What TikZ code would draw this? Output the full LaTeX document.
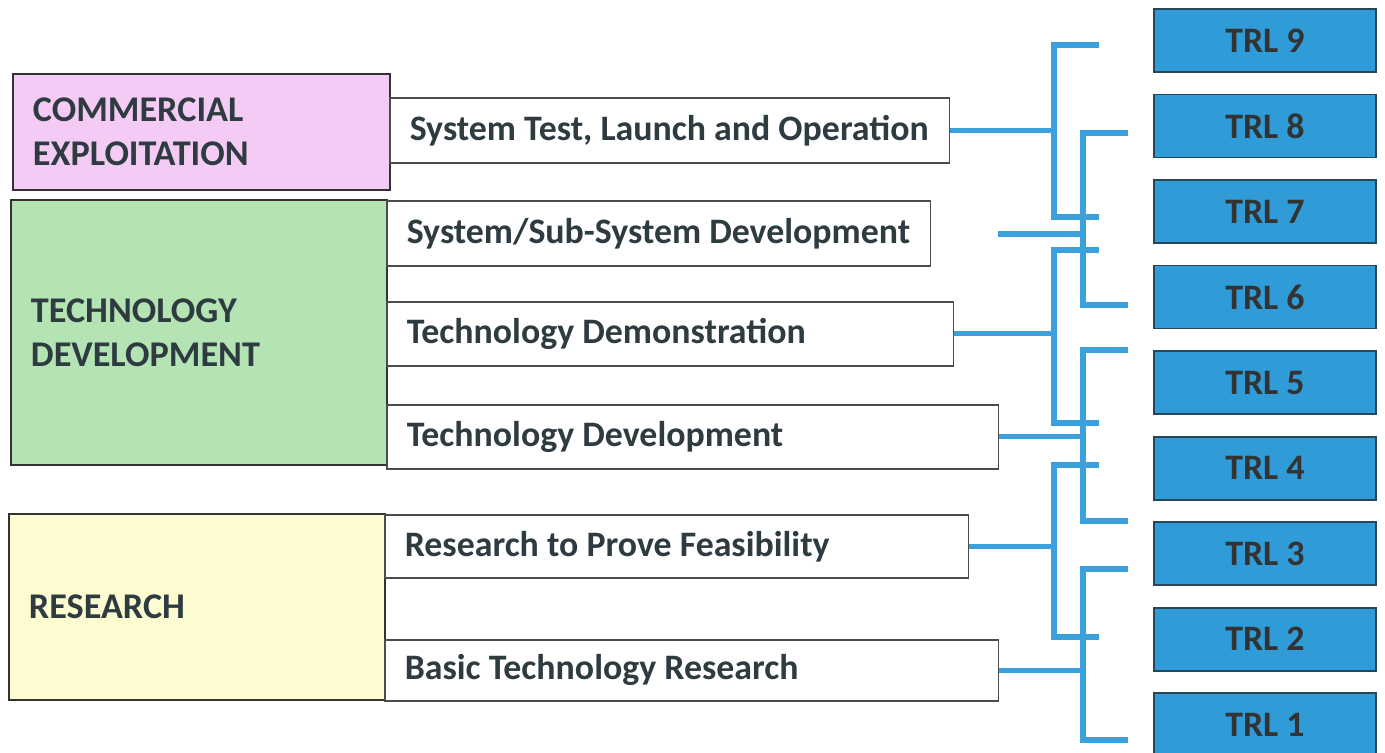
\documentclass[tikz,border=0pt]{standalone}
\usepackage{fontspec}
\setmainfont{Carlito}
\usetikzlibrary{positioning}

\definecolor{inkgrey}{HTML}{2E3B40}
\definecolor{compink}{HTML}{F4CBF4}
\definecolor{tecgreen}{HTML}{B4E3B4}
\definecolor{resyellow}{HTML}{FCFCD0}
\definecolor{trlblue}{HTML}{2F9BD7}
\definecolor{trlline}{HTML}{27465A}
\definecolor{linkblue}{HTML}{3BA1DD}

\begin{document}
\begin{tikzpicture}
    [x=0.02cm, y=-0.02cm,
    every node/.style={font=\fontsize{20.4}{25}\selectfont\bfseries, text=inkgrey},
    catbox/.style={rectangle, draw=black!80, line width=1.1pt, anchor=north west, align=flush left, inner xsep=0.4cm, font=\fontsize{20.6}{25}\selectfont\bfseries},
    actbox/.style={rectangle, draw=black!70, line width=0.9pt, fill=white, anchor=north west, inner xsep=0.4cm},
    trlbox/.style={rectangle, draw=trlline, line width=1.1pt, fill=trlblue, minimum width=4.44cm, minimum height=1.26cm, text=black!80},
    link/.style={draw=linkblue, line width=2.9pt},]

    \clip (0,0) rectangle (1385,753);

    %Phases
    \node[catbox, fill=compink, text width=6.74cm, minimum height=2.32cm](com) at (12,73){COMMERCIAL\\EXPLOITATION};
    \node[catbox, fill=tecgreen, text width=6.72cm, minimum height=5.3cm](tec) at (10,199){TECHNOLOGY\\DEVELOPMENT};
    \node[catbox, fill=resyellow, text width=6.72cm, minimum height=3.72cm](res) at (8,513){RESEARCH};

    %Activities
    \node[actbox, minimum height=1.3cm](act1) at (389,97){\makebox[10.4cm][l]{System Test, Launch and Operation}};
    \node[actbox, minimum height=1.3cm](act2) at (386,200){\makebox[10.08cm][l]{System/Sub-System Development}};
    \node[actbox, minimum height=1.28cm](act3) at (386,301){\makebox[10.54cm][l]{Technology Demonstration}};
    \node[actbox, minimum height=1.28cm](act4) at (386,404){\makebox[11.44cm][l]{Technology Development}};
    \node[actbox, minimum height=1.26cm](act5) at (384,514){\makebox[10.88cm][l]{Research to Prove Feasibility}};
    \node[actbox, minimum height=1.22cm](act6) at (384,639){\makebox[11.48cm][l]{Basic Technology Research}};

    %TRL levels
    \node[trlbox, anchor=north west](trl9) at (1153,8){TRL 9};
    \foreach \n/\p in {8/9,7/8,6/7,5/6,4/5,3/4,2/3,1/2}
        \node[trlbox, below=0.412cm of trl\p](trl\n){TRL \n};

    %Brackets
    \coordinate (gap2) at (998,234);
    \foreach \i/\xs/\xt/\ya/\yb/\src in {1/1054/1099/45/217/act1.east, 2/1083/1128/133/305/gap2,
        3/1054/1099/250/423/act3.east, 4/1083/1128/350/521/act4.east,
        5/1054/1099/465/637/act5.east, 6/1083/1128/569/740/act6.east}{
        \coordinate (up\i) at (\xt,\ya);
        \coordinate (lo\i) at (\xt,\yb);
        \coordinate (sp\i) at (\xs,0);
        \draw[link](up\i) -- (up\i -| sp\i) -- (lo\i -| sp\i) -- (lo\i);
        \draw[link](\src) -- (\src -| sp\i);
    }
\end{tikzpicture}
\end{document}
